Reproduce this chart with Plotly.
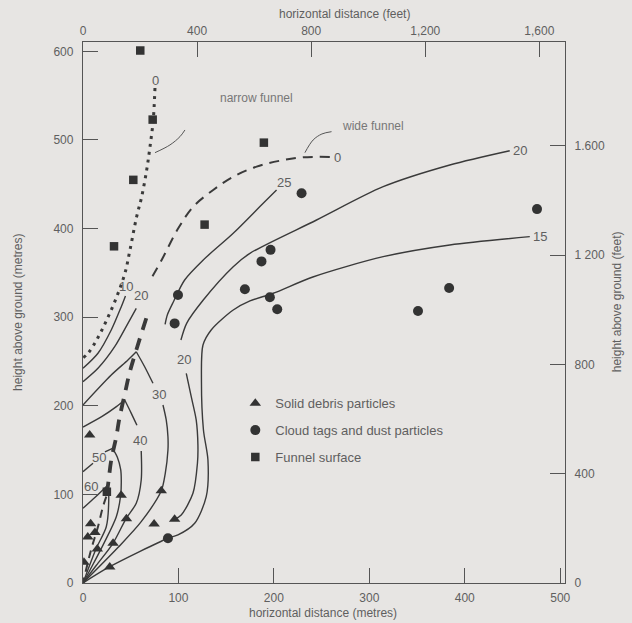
import plotly.graph_objects as go

# ---------------- observations (metres) ----------------
debris_x = [7, 40, 82, 45.5, 74.5, 96, 8, 12.5, 5, 15, 31.5, 1, 28]
debris_y = [167, 99, 104, 72.5, 66.5, 72, 67, 57, 52, 38.5, 45, 23.5, 18]

cloud_x = [229, 475.7, 196.5, 187, 195.8, 203.5, 383.6, 351, 169.6, 99.5, 96, 89]
cloud_y = [439.8, 422, 376, 363, 322.5, 309, 333, 307, 331.5, 325, 293, 50.5]

funnel_x = [60, 73, 52.7, 189.5, 127.4, 32.5, 25]
funnel_y = [601, 523, 455, 497, 404.5, 380, 103]

# ---------------- funnel outlines ----------------
narrow_x = [75.4, 73.6, 70.2, 66.7, 61.5, 56.2, 49.2, 44, 35.3, 24.8, 14.3, 5.5, 0]
narrow_y = [558.7, 522.6, 492.4, 466, 436, 413.4, 375.8, 349.9, 323, 296.8, 274.3, 259.6, 254]

wide_upper_x = [258.6, 230.7, 206.3, 181.9, 157.4, 136.4, 115.5, 99.8, 82.4, 69.5]
wide_upper_y = [480.8, 480.5, 476.6, 469.9, 458.6, 443.6, 424.7, 400.3, 364.6, 340]
wall_x = [66.3, 56.9, 48.9, 44, 38, 34.9, 29.6, 26.2, 24.4]
wall_y = [298.8, 266.7, 237.6, 214.4, 185.1, 165.1, 138.8, 110.6, 97.4]
wall_low_x = [24.4, 20.9, 15.7, 8.4, 0]
wall_low_y = [97.4, 86.1, 63.5, 37.2, 0]

# ---------------- isotachs (pieces split at labels and cusps) ----------------
isotachs = [
    # outer 15
    ([468.1, 384.3, 314.5, 240.8, 199.3, 174.9, 157.4, 134.3, 125.7, 124.1, 126.2, 130.9, 129.1, 117, 99.5, 89, 28, 0],
     [390.9, 381.5, 368.3, 345.4, 327, 318.3, 308.1, 285.6, 268.6, 229.1, 172.7, 138.8, 97.4, 67.4, 54.2, 50.5, 18.4, 0]),
    # outer 20
    ([447.1, 384.3, 314.5, 244.7, 174.9, 157.4, 126, 108.6, 102.6],
     [487.9, 471.8, 447.3, 409.7, 372.1, 357, 319.4, 293.1, 274.3]),
    ([108.2, 113.4, 118.6, 120.4, 119.9, 115.2, 102.9, 96],
     [236.7, 210.3, 184, 155.8, 135.1, 101.2, 76.7, 71.9]),
    # 25
    ([202.8, 188.8, 157.4, 126, 106.5, 95, 88.5, 86],
     [443.6, 428.6, 394.7, 364.6, 342, 318, 303, 292]),
    # 10 and 20 inside the funnel
    ([0, 15.7, 29.6, 40.1, 44.5], [242.3, 259.3, 285.5, 311.8, 324]),
    ([0, 15.7, 33.2, 47.1, 55.8], [227.2, 242.3, 266.7, 293.1, 310]),
    # 30
    ([0, 29.6, 47.1, 55.8], [201, 234.8, 251.7, 261]),
    ([55.8, 64.6, 73.3], [261, 244.1, 225.4]),
    ([83.8, 87.2, 89, 89, 86.2, 82, 61, 36.6, 0], [200.9, 184, 165.1, 150.1, 123.8, 104, 69.2, 40, 0]),
    # 40
    ([0, 20, 35, 43.7], [176, 188, 199, 206.5]),
    ([43.7, 50.6, 56.5], [206.5, 191.5, 178]),
    ([61, 61, 55.8, 45.3, 31.4, 14, 0], [149, 116.3, 90, 73, 44.8, 20, 0]),
    # 50
    ([0, 10.5], [125.6, 135.1]),
    ([23, 31], [148, 152]),
    ([31, 36, 39.5, 40.1, 39.5, 34.9, 22, 10, 0], [152, 142, 128, 116.3, 99.3, 74.8, 45, 20, 0]),
    # 60
    ([0, 13, 26.2], [84.3, 97, 110.6]),
    ([26.2, 27, 24.4, 13.9, 0], [110.6, 95, 63.5, 39.2, 0]),
]

# pointer lines for the funnel captions
ptr_narrow_x = [75.4, 91.1, 101.6, 106.8]
ptr_narrow_y = [485.7, 494.4, 503.8, 511.3]
ptr_wide_x = [232.5, 241.1, 250.3, 260.4]
ptr_wide_y = [485.7, 500, 506.8, 509.4]

# contour values and where they are written
label_text = ["0", "0", "25", "20", "15", "10", "20", "20", "30", "40", "50", "60"]
label_x = [76.4, 266.5, 210.8, 457.6, 478.5, 45, 61, 105.8, 79.6, 59.4, 16.6, 8.7]
label_y = [566.6, 480.5, 452.3, 487.9, 390.9, 335, 324, 252.8, 213, 161.4, 142, 108.7]

x_ticks_m = [0, 100, 200, 300, 400, 500]
y_ticks_m = [0, 100, 200, 300, 400, 500, 600]
x_ticks_ft = [0, 400, 800, 1200, 1600]
x_ticktext_ft = ["0", "400", "800", "1,200", "1,600"]
y_ticks_ft = [0, 400, 800, 1200, 1600]
y_ticktext_ft = ["0", "400", "800", "1 200", "1.600"]

BG = "#e7e5e3"
INK = "#3a3a3a"
TXT = "#5f5f5f"
FONT = "Liberation Sans, Arial, sans-serif"

fig = go.Figure()

for xs, ys in isotachs:
    fig.add_trace(go.Scatter(x=xs, y=ys, mode="lines", line=dict(color=INK, width=1.4, shape="spline", smoothing=0.8),
                             showlegend=False, hoverinfo="skip"))

fig.add_trace(go.Scatter(x=narrow_x, y=narrow_y, mode="lines",
                         line=dict(color=INK, width=3, dash="3px,5px", shape="spline"),
                         showlegend=False, hoverinfo="skip"))
fig.add_trace(go.Scatter(x=wide_upper_x, y=wide_upper_y, mode="lines",
                         line=dict(color=INK, width=2, dash="10px,7px", shape="spline"),
                         showlegend=False, hoverinfo="skip"))
fig.add_trace(go.Scatter(x=wall_x, y=wall_y, mode="lines",
                         line=dict(color=INK, width=3.8, dash="12px,9px", shape="spline"),
                         showlegend=False, hoverinfo="skip"))
fig.add_trace(go.Scatter(x=wall_low_x, y=wall_low_y, mode="lines",
                         line=dict(color=INK, width=2, dash="8px,6px", shape="spline"),
                         showlegend=False, hoverinfo="skip"))
for xs, ys in [(ptr_narrow_x, ptr_narrow_y), (ptr_wide_x, ptr_wide_y)]:
    fig.add_trace(go.Scatter(x=xs, y=ys, mode="lines", line=dict(color="#555", width=1, shape="spline"),
                             showlegend=False, hoverinfo="skip"))

fig.add_trace(go.Scatter(x=debris_x, y=debris_y, mode="markers", name="Solid debris particles",
                         marker=dict(symbol="triangle-up", size=10, color="#333"), legendgroup="a"))
fig.add_trace(go.Scatter(x=cloud_x, y=cloud_y, mode="markers", name="Cloud tags and dust particles",
                         marker=dict(symbol="circle", size=10, color="#333"), legendgroup="b"))
fig.add_trace(go.Scatter(x=funnel_x, y=funnel_y, mode="markers", name="Funnel surface",
                         marker=dict(symbol="square", size=8.5, color="#333"), legendgroup="c"))

# feet scales (top and right)
fig.add_trace(go.Scatter(x=[0], y=[0], xaxis="x2", yaxis="y2", mode="markers",
                         marker=dict(opacity=0), showlegend=False, hoverinfo="skip"))

for t, x, y in zip(label_text, label_x, label_y):
    fig.add_annotation(x=x, y=y, text=t, showarrow=False, font=dict(size=13, color=TXT, family=FONT))

fig.add_annotation(x=141.4, y=547.7, text="narrow funnel", showarrow=False, xanchor="left",
                   font=dict(size=12, color="#777", family=FONT))
fig.add_annotation(x=269.1, y=515.8, text="wide funnel", showarrow=False, xanchor="left",
                   font=dict(size=12, color="#777", family=FONT))

title_font = dict(size=12, color=TXT, family=FONT)
centred = dict(xref="paper", yref="paper", showarrow=False, xanchor="center", yanchor="middle", font=title_font)
fig.add_annotation(x=0.498, y=-0.0555, text="horizontal distance (metres)", **centred)
fig.add_annotation(x=0.5415, y=1.0518, text="horizontal distance (feet)", **centred)
fig.add_annotation(x=-0.135, y=0.501, text="height above ground (metres)", textangle=-90, **centred)
fig.add_annotation(x=1.108, y=0.519, text="height above ground (feet)", textangle=-90, **centred)

axis_common = dict(showgrid=False, zeroline=False, showline=True, linecolor="#555", linewidth=1.3,
                   ticks="inside", ticklen=15, tickwidth=1.4, tickcolor="#555",
                   tickfont=dict(size=12, color=TXT, family=FONT))

fig.update_layout(
    width=632, height=623,
    margin=dict(l=83, r=67, t=42, b=40),
    paper_bgcolor=BG, plot_bgcolor=BG,
    showlegend=True,
    legend=dict(x=0.316, y=0.36, xanchor="left", yanchor="top", bgcolor="rgba(0,0,0,0)",
                font=dict(size=13, color=TXT, family=FONT), tracegroupgap=7),
    xaxis=dict(range=[0, 505], tickvals=x_ticks_m, ticklabelstandoff=3, **axis_common),
    yaxis=dict(range=[0, 610.6], tickvals=y_ticks_m, ticklabelstandoff=6, **axis_common),
    xaxis2=dict(range=[0, 1690], overlaying="x", side="top", tickvals=x_ticks_ft, ticktext=x_ticktext_ft,
                ticklabelstandoff=1, **axis_common),
    yaxis2=dict(range=[0, 1980], overlaying="y", side="right", tickvals=y_ticks_ft, ticktext=y_ticktext_ft,
                ticklabelstandoff=6, **axis_common),
)

fig.write_html("out.html")
